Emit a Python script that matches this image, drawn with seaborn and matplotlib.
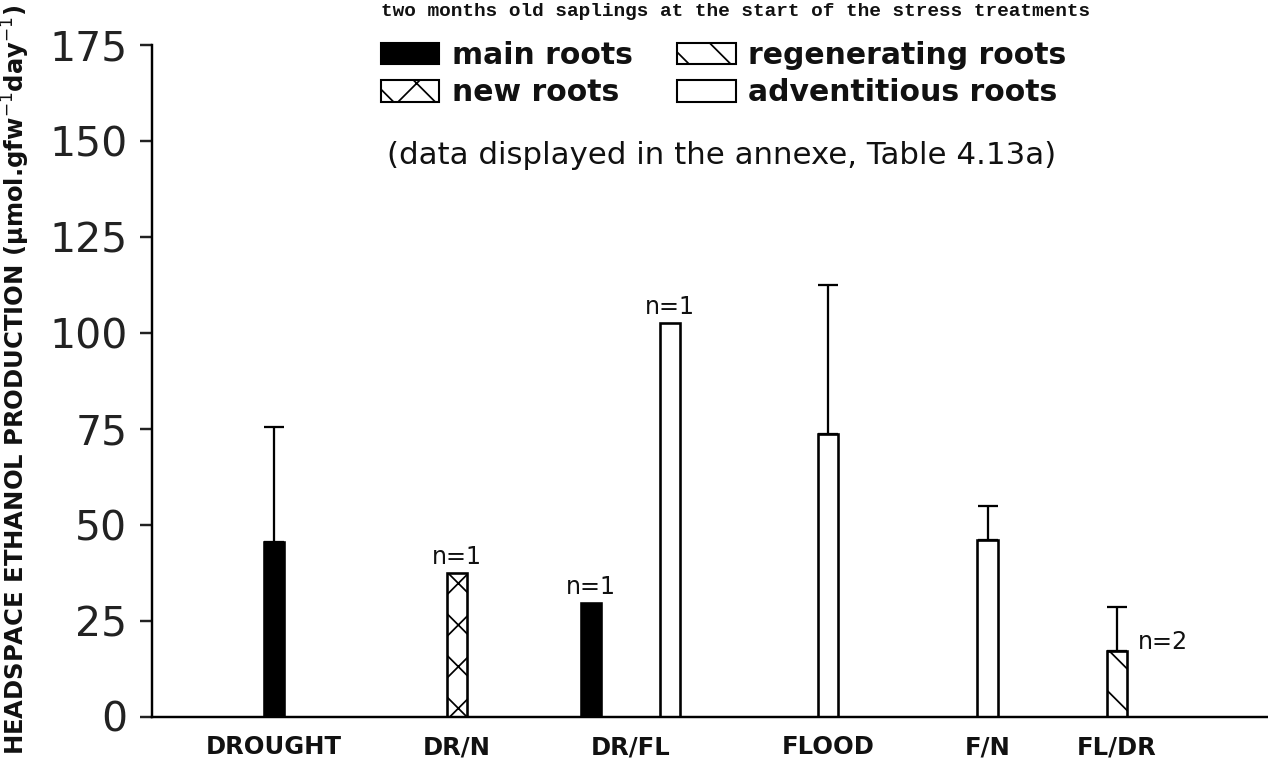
import numpy as np
import pandas as pd
import matplotlib
matplotlib.use("Agg")
import matplotlib.pyplot as plt
from matplotlib.patches import Patch
import seaborn as sns

# ---- data -------------------------------------------------------------
conditions = ["DROUGHT", "DR/N", "DR/FL", "DR/FL", "FLOOD", "F/N", "FL/DR"]
root_types = ["main roots", "new roots", "main roots", "adventitious roots",
              "adventitious roots", "adventitious roots", "regenerating roots"]
ethanol = [45.6, 37.3, 29.5, 102.5, 73.5, 46.0, 17.1]
ethanol_err = [29.9, 0.0, 0.0, 0.0, 39.0, 8.9, 11.4]
sample_notes = ["", "n=1", "n=1", "n=1", "", "", "n=2"]

legend_order = ["main roots", "new roots", "regenerating roots", "adventitious roots"]
y_ticks = [0, 25, 50, 75, 100, 125, 150, 175]

# ---- layout / style ---------------------------------------------------
bar_pos = [0.0, 1.08, 1.87, 2.33, 3.26, 4.20, 4.96]
x_limits = (-0.715, 5.85)
bar_width = 0.118
root_colors = {"main roots": "black", "new roots": "white",
               "regenerating roots": "white", "adventitious roots": "white"}
root_hatch = {"main roots": "", "new roots": "xx",
              "regenerating roots": "\\\\", "adventitious roots": ""}

DPI = 250
W, H = 1268, 763

sns.set_style("ticks")
plt.rcParams["font.family"] = ["DejaVu Sans"]
plt.rcParams["hatch.linewidth"] = 0.5
plt.rcParams["hatch.color"] = "black"

fig = plt.figure(figsize=(W / DPI, H / DPI), dpi=DPI)
fig.patch.set_facecolor("white")
ax = fig.add_axes([152 / W, 1 - 716.5 / H, (W - 152) / W, (716.5 - 45) / H])

df = pd.DataFrame({"pos": bar_pos, "ethanol": ethanol, "root": root_types,
                   "condition": conditions})

width_rel = bar_width / np.diff(np.sort(np.unique(bar_pos))).min()
sns.barplot(data=df, x="pos", y="ethanol", hue="root",
            hue_order=legend_order, palette=root_colors, native_scale=True,
            dodge=False, width=width_rel, errorbar=None, saturation=1,
            edgecolor="black", linewidth=0.75, legend=False, ax=ax)

# hatch each bar according to its root type
pos_arr = np.asarray(bar_pos)
for patch in ax.patches:
    cx = patch.get_x() + patch.get_width() / 2
    idx = int(np.argmin(np.abs(pos_arr - cx)))
    patch.set_hatch(root_hatch[root_types[idx]])
    patch.set_edgecolor("black")

# upper error bars
err = np.asarray(ethanol_err)
vals = np.asarray(ethanol)
mask = err > 0
ax.errorbar(pos_arr[mask], vals[mask], yerr=[np.zeros(mask.sum()), err[mask]],
            fmt="none", ecolor="black", elinewidth=0.65, capsize=2.9,
            capthick=0.65, zorder=3)

# sample size notes
for x, v, e, note in zip(bar_pos, ethanol, ethanol_err, sample_notes):
    if not note:
        continue
    if e > 0:
        ax.annotate(note, (x, v), xytext=(6.0, 2.6), textcoords="offset points",
                    ha="left", va="center", fontsize=6.9, color="#111")
    else:
        ax.annotate(note, (x, v), xytext=(0, 4.6), textcoords="offset points",
                    ha="center", va="center", fontsize=6.9, color="#111")

# axes
ax.set_xlim(*x_limits)
ax.set_ylim(0, 175)
ax.set_yticks(y_ticks)
ax.set_yticklabels([str(t) for t in y_ticks])
group_names = list(dict.fromkeys(conditions))
group_centers = [df.loc[df["condition"] == g, "pos"].mean() for g in group_names]
ax.set_xticks(group_centers)
ax.set_xticklabels(group_names, fontweight="bold", fontsize=7.0)
ax.tick_params(axis="x", length=0, pad=5.4, colors="#111")
ax.tick_params(axis="y", length=3.5, width=0.7, direction="out", pad=3.6,
               labelsize=11.8, colors="#222")
ax.set_xlabel("")
ax.set_ylabel("")
for side in ("top", "right"):
    ax.spines[side].set_visible(False)
for side in ("left", "bottom"):
    ax.spines[side].set_linewidth(0.7)
    ax.spines[side].set_color("black")
ax.grid(False)
ax.set_facecolor("white")

# legend
handles = [Patch(facecolor=root_colors[r], edgecolor="black", linewidth=0.6,
                 hatch=root_hatch[r], label=r) for r in legend_order]
leg = ax.legend(handles=handles, ncol=2, loc="upper left",
                bbox_to_anchor=(366 / W, 1 - 26 / H), bbox_transform=fig.transFigure,
                frameon=False, borderpad=0, handlelength=1.95, handleheight=0.74,
                handletextpad=0.42, columnspacing=1.5, labelspacing=0.28,
                prop={"size": 8.6, "weight": "bold"})
for t in leg.get_texts():
    t.set_color("#111")

fig.text(722 / W, 1 - 156 / H, "(data displayed in the annexe, Table 4.13a)",
         ha="center", va="center", fontsize=8.9, color="#111")

# y-axis title
fig.text(16 / W, 1 - 5 / H,
         "HEADSPACE ETHANOL PRODUCTION (\u03bcmol.gfw$^{-1}$day$^{-1}$)",
         rotation=90, ha="center", va="top", fontsize=7.0, fontweight="bold",
         color="#111")

# figure heading along the top edge
fig.text(736 / W, 1 - 16 / H,
         "two months old saplings at the start of the stress treatments",
         ha="center", va="baseline", fontsize=5.6, fontweight="bold",
         family="Liberation Mono", color="#111")

fig.savefig("out.png", dpi=DPI, facecolor="white")
